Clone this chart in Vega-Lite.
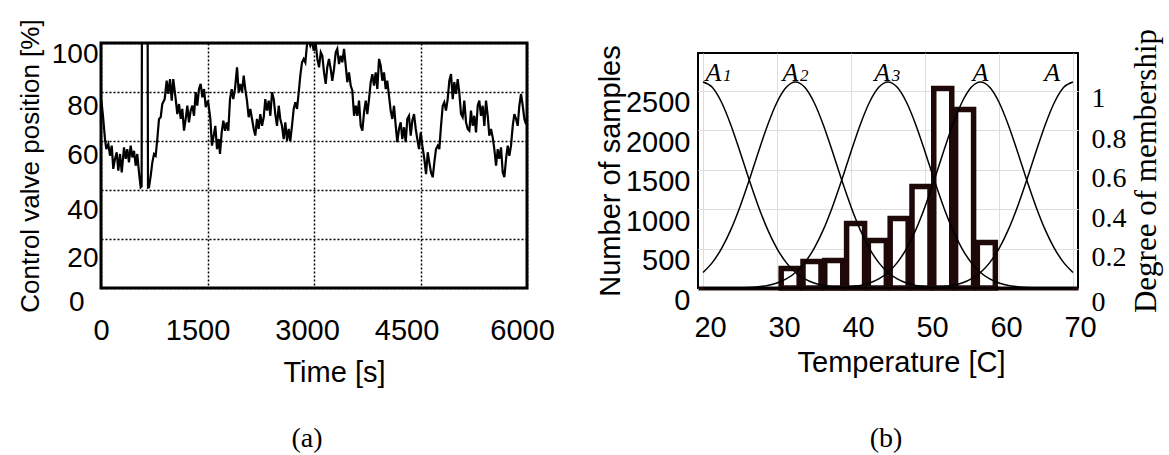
{
"$schema": "https://vega.github.io/schema/vega-lite/v6.json",
"background": "white",
"padding": {"left": 15, "top": 17, "right": 4, "bottom": 4},
"config": {
 "font": "Liberation Sans",
 "axis": {"labelColor": "black", "titleColor": "black", "titleFontWeight": "normal", "domain": false, "ticks": false, "labelOverlap": false, "labelFlush": false, "labelBound": false, "labelFont": "Liberation Sans", "titleFont": "Liberation Sans"},
 "title": {"color": "black", "fontWeight": "normal", "font": "Liberation Serif", "fontSize": 28}
},
"spacing": 171,
"bounds": "flush",
"hconcat": [
 {
  "width": 426, "height": 245,
  "view": {"stroke": "black", "strokeWidth": 3},
  "title": {"text": "(a)", "orient": "bottom", "frame": "group", "offset": 38, "dx": -7},
  "data": {"values": [
{"t":0,"v":77},{"t":10,"v":75.1},{"t":28,"v":70.3},{"t":56,"v":60.8},{"t":75,"v":56.7},{"t":103,"v":58.8},{"t":127,"v":54},{"t":151,"v":58.1},{"t":173,"v":48.6},{"t":197,"v":52.7},{"t":221,"v":55.4},{"t":244,"v":47.9},{"t":268,"v":54.7},{"t":292,"v":47.2},{"t":324,"v":57.4},{"t":348,"v":52.7},{"t":370,"v":56.7},{"t":394,"v":51.3},{"t":418,"v":58.1},{"t":441,"v":53.3},{"t":465,"v":56},{"t":489,"v":49.9},{"t":511,"v":54.7},{"t":535,"v":47.2},{"t":559,"v":41.1},{"t":572,"v":41.5},{"t":578,"v":130},{"t":655,"v":130},{"t":662,"v":41},{"t":676,"v":41.1},{"t":700,"v":45.8},{"t":723,"v":51.3},{"t":747,"v":54.7},{"t":770,"v":54},{"t":793,"v":60.8},{"t":817,"v":69},{"t":841,"v":69.7},{"t":863,"v":75.1},{"t":897,"v":77.1},{"t":925,"v":84.6},{"t":948,"v":79.2},{"t":972,"v":85.3},{"t":996,"v":76.5},{"t":1018,"v":85.3},{"t":1052,"v":77.1},{"t":1075,"v":71},{"t":1099,"v":75.1},{"t":1123,"v":69},{"t":1145,"v":73.1},{"t":1169,"v":64.2},{"t":1193,"v":69},{"t":1216,"v":74.4},{"t":1239,"v":67.6},{"t":1263,"v":72.4},{"t":1286,"v":74.4},{"t":1310,"v":70.3},{"t":1334,"v":79.9},{"t":1356,"v":74.4},{"t":1380,"v":81.2},{"t":1404,"v":83.3},{"t":1427,"v":77.8},{"t":1451,"v":81.2},{"t":1475,"v":73.8},{"t":1507,"v":76.5},{"t":1540,"v":69},{"t":1563,"v":58.1},{"t":1587,"v":62.2},{"t":1610,"v":66.2},{"t":1634,"v":56.7},{"t":1658,"v":60.8},{"t":1676,"v":54.7},{"t":1700,"v":63.5},{"t":1723,"v":68.3},{"t":1747,"v":64.2},{"t":1770,"v":67.6},{"t":1793,"v":64.2},{"t":1817,"v":77.1},{"t":1841,"v":81.2},{"t":1863,"v":77.1},{"t":1887,"v":81.2},{"t":1916,"v":90.1},{"t":1939,"v":79.9},{"t":1962,"v":83.3},{"t":1986,"v":79.9},{"t":2010,"v":86.7},{"t":2032,"v":81.2},{"t":2056,"v":76.5},{"t":2080,"v":69.7},{"t":2103,"v":73.1},{"t":2127,"v":69},{"t":2151,"v":64.9},{"t":2173,"v":62.2},{"t":2197,"v":69},{"t":2221,"v":64.9},{"t":2244,"v":71},{"t":2268,"v":66.2},{"t":2292,"v":69.7},{"t":2314,"v":77.1},{"t":2338,"v":72.4},{"t":2362,"v":76.5},{"t":2385,"v":70.3},{"t":2409,"v":79.9},{"t":2433,"v":77.1},{"t":2455,"v":71},{"t":2479,"v":66.2},{"t":2503,"v":74.4},{"t":2525,"v":69},{"t":2549,"v":66.2},{"t":2573,"v":60.8},{"t":2596,"v":67.6},{"t":2620,"v":60.1},{"t":2644,"v":64.9},{"t":2666,"v":60.1},{"t":2690,"v":66.2},{"t":2714,"v":73.1},{"t":2737,"v":75.8},{"t":2761,"v":73.1},{"t":2785,"v":79.9},{"t":2807,"v":86.7},{"t":2831,"v":92.1},{"t":2855,"v":93.5},{"t":2878,"v":92.1},{"t":2902,"v":99.6},{"t":2926,"v":100.9},{"t":2948,"v":98.9},{"t":2972,"v":100.9},{"t":2996,"v":96.9},{"t":3024,"v":99.6},{"t":3047,"v":93.5},{"t":3071,"v":90.1},{"t":3095,"v":96.2},{"t":3117,"v":94.8},{"t":3141,"v":88},{"t":3165,"v":83.3},{"t":3187,"v":90.1},{"t":3211,"v":93.5},{"t":3235,"v":89.4},{"t":3258,"v":84.6},{"t":3282,"v":89.4},{"t":3306,"v":96.2},{"t":3328,"v":97.6},{"t":3352,"v":91.4},{"t":3376,"v":94.8},{"t":3399,"v":92.1},{"t":3423,"v":97.6},{"t":3447,"v":90.7},{"t":3469,"v":84},{"t":3493,"v":88},{"t":3517,"v":82.6},{"t":3540,"v":80.5},{"t":3564,"v":70.3},{"t":3588,"v":74.4},{"t":3610,"v":70.3},{"t":3634,"v":76.5},{"t":3658,"v":66.2},{"t":3681,"v":64.2},{"t":3705,"v":71.7},{"t":3729,"v":76.5},{"t":3751,"v":71},{"t":3775,"v":77.1},{"t":3799,"v":84},{"t":3822,"v":87.3},{"t":3845,"v":82.6},{"t":3869,"v":88},{"t":3892,"v":81.2},{"t":3916,"v":93.5},{"t":3940,"v":90.7},{"t":3962,"v":84.6},{"t":3986,"v":88},{"t":4010,"v":81.2},{"t":4032,"v":84.6},{"t":4056,"v":78.5},{"t":4080,"v":72.4},{"t":4103,"v":69},{"t":4127,"v":74.4},{"t":4151,"v":66.2},{"t":4173,"v":59.5},{"t":4197,"v":64.9},{"t":4221,"v":67.6},{"t":4244,"v":60.8},{"t":4268,"v":65.6},{"t":4292,"v":59.5},{"t":4314,"v":69},{"t":4338,"v":70.3},{"t":4362,"v":62.2},{"t":4385,"v":68.3},{"t":4409,"v":71},{"t":4433,"v":64.9},{"t":4455,"v":60.8},{"t":4479,"v":56.7},{"t":4503,"v":63.5},{"t":4526,"v":58.1},{"t":4554,"v":52.7},{"t":4578,"v":46.5},{"t":4602,"v":55.4},{"t":4624,"v":51.3},{"t":4648,"v":47.2},{"t":4672,"v":45.2},{"t":4695,"v":51.3},{"t":4718,"v":56.7},{"t":4743,"v":58.1},{"t":4765,"v":56.7},{"t":4789,"v":66.2},{"t":4813,"v":74.4},{"t":4835,"v":75.8},{"t":4859,"v":72.4},{"t":4883,"v":77.1},{"t":4906,"v":84.6},{"t":4930,"v":87.3},{"t":4954,"v":77.1},{"t":4976,"v":84},{"t":5000,"v":79.2},{"t":5024,"v":85.3},{"t":5046,"v":79.9},{"t":5071,"v":71},{"t":5094,"v":69.7},{"t":5117,"v":76.5},{"t":5141,"v":67.6},{"t":5165,"v":64.9},{"t":5188,"v":64.2},{"t":5211,"v":72.4},{"t":5235,"v":66.2},{"t":5258,"v":70.3},{"t":5282,"v":63.5},{"t":5306,"v":74.4},{"t":5328,"v":76.5},{"t":5352,"v":70.3},{"t":5376,"v":74.4},{"t":5399,"v":66.2},{"t":5423,"v":76.5},{"t":5447,"v":70.3},{"t":5469,"v":62.2},{"t":5493,"v":64.9},{"t":5517,"v":61.5},{"t":5540,"v":56.7},{"t":5564,"v":49.9},{"t":5588,"v":56.7},{"t":5610,"v":52.7},{"t":5634,"v":57.4},{"t":5658,"v":47.2},{"t":5681,"v":45.2},{"t":5705,"v":52.7},{"t":5728,"v":58.1},{"t":5751,"v":54},{"t":5775,"v":58.1},{"t":5799,"v":66.2},{"t":5822,"v":71},{"t":5846,"v":69},{"t":5869,"v":66.2},{"t":5892,"v":74.4},{"t":5916,"v":79.2},{"t":5940,"v":74.4},{"t":5963,"v":69},{"t":5986,"v":66.9},{"t":6000,"v":70}
  ]},
  "mark": {"type": "line", "color": "black", "strokeWidth": 2.2, "clip": true},
  "encoding": {
   "x": {"field": "t", "type": "quantitative", "scale": {"domain": [0, 6000], "nice": false},
    "axis": {"values": [0, 1500, 3000, 4500, 6000], "format": "d", "grid": true, "gridColor": "black", "gridDash": [2, 2], "gridWidth": 1.5,
     "labelFontSize": 29, "labelPadding": 28,
     "labelOffset": {"condition": [{"test": "datum.value === 1500", "value": -10}, {"test": "datum.value === 3000", "value": -7}, {"test": "datum.value === 4500", "value": -14}, {"test": "datum.value === 6000", "value": -5}], "value": 0},
     "title": "Time [s]", "titleFontSize": 29, "titlePadding": 13, "titleX": 233}},
   "y": {"field": "v", "type": "quantitative", "scale": {"domain": [0, 100], "nice": false},
    "axis": {"values": [0, 20, 40, 60, 80, 100], "format": "d", "grid": true, "gridColor": "black", "gridDash": [2, 2], "gridWidth": 1.5,
     "labelFontSize": 28,
     "labelPadding": {"condition": {"test": "datum.value === 0", "value": 17}, "value": 3},
     "labelOffset": {"condition": [{"test": "datum.value === 100", "value": 11}, {"test": "datum.value === 40", "value": 20}, {"test": "datum.value === 20", "value": 19}], "value": 14},
     "title": "Control valve position [%]", "titleFontSize": 26, "titlePadding": 8}}
  }
 },
 {
  "spacing": 0,
  "bounds": "flush",
  "vconcat": [
   {"width": 380, "height": 10, "view": {"stroke": null}, "data": {"values": [{}]}, "mark": {"type": "text"}, "encoding": {"text": {"value": ""}}},
   {
    "width": 380, "height": 235,
    "view": {"stroke": "black", "strokeWidth": 2},
    "title": {"text": "(b)", "orient": "bottom", "frame": "group", "offset": 48, "dx": -2},
    "encoding": {
     "x": {"field": "t", "type": "quantitative", "scale": {"domain": [20, 70], "nice": false},
      "axis": {"values": [20, 30, 40, 50, 60, 70], "domain": true, "domainColor": "#1e0808", "domainWidth": 4,
       "labelFontSize": 29, "labelPadding": 25, "labelOffset": 7,
       "title": "Temperature [C]", "titleFontSize": 29, "titlePadding": 6, "titleX": 203}}
    },
    "layer": [
     {
      "data": {"values": [
       {"t": 31.78, "n": 247}, {"t": 34.73, "n": 336}, {"t": 37.67, "n": 349}, {"t": 40.62, "n": 818}, {"t": 43.56, "n": 603},
       {"t": 46.51, "n": 882}, {"t": 49.46, "n": 1288}, {"t": 52.40, "n": 2532}, {"t": 55.35, "n": 2265}, {"t": 58.29, "n": 577}
      ]},
      "mark": {"type": "bar", "width": 18, "fill": "white", "stroke": "#1e0808", "strokeWidth": 5.5},
      "encoding": {
       "y": {"field": "n", "type": "quantitative", "scale": {"domain": [0, 2982], "nice": false},
        "axis": {"orient": "left", "values": [0, 500, 1000, 1500, 2000, 2500], "format": "d", "labelFontSize": 29, "labelPadding": 8, "labelOffset": 12,
         "title": "Number of samples", "titleFontSize": 29, "titlePadding": 0}}
      }
     },
     {
      "encoding": {
       "y": {"field": "m", "type": "quantitative", "scale": {"domain": [0, 1.1929], "nice": false},
        "axis": {"orient": "right", "values": [0, 0.2, 0.4, 0.6, 0.8, 1], "format": ".1~f", "labelFont": "Liberation Serif", "labelFontSize": 28, "labelPadding": 13,
         "labelOffset": {"condition": [{"test": "datum.value === 1", "value": 7}, {"test": "datum.value === 0", "value": 14}], "value": 9},
         "title": "Degree of membership", "titleFont": "Liberation Serif", "titleFontSize": 31, "titleAngle": -90, "titleBaseline": "top", "titlePadding": 5}}
      },
      "layer": [
       {
        "data": {"values": [
{"c":"A1","t":20,"m":1.046},{"c":"A1","t":21.25,"m":1.019},{"c":"A1","t":22.5,"m":0.943},{"c":"A1","t":23.75,"m":0.829},{"c":"A1","t":25,"m":0.692},{"c":"A1","t":26.25,"m":0.548},{"c":"A1","t":27.5,"m":0.413},{"c":"A1","t":28.75,"m":0.295},{"c":"A1","t":30,"m":0.2},{"c":"A1","t":31.25,"m":0.129},{"c":"A1","t":32.5,"m":0.079},{"c":"A1","t":33.75,"m":0.046},{"c":"A1","t":35,"m":0.025},{"c":"A1","t":36.25,"m":0.013},{"c":"A1","t":37.5,"m":0.007},{"c":"A1","t":38.75,"m":0.003},{"c":"A1","t":40,"m":0.001},{"c":"A1","t":70,"m":0},
{"c":"A2","t":20,"m":0.079},{"c":"A2","t":21.25,"m":0.129},{"c":"A2","t":22.5,"m":0.2},{"c":"A2","t":23.75,"m":0.295},{"c":"A2","t":25,"m":0.413},{"c":"A2","t":26.25,"m":0.548},{"c":"A2","t":27.5,"m":0.692},{"c":"A2","t":28.75,"m":0.829},{"c":"A2","t":30,"m":0.943},{"c":"A2","t":31.25,"m":1.019},{"c":"A2","t":32.5,"m":1.046},{"c":"A2","t":33.75,"m":1.019},{"c":"A2","t":35,"m":0.943},{"c":"A2","t":36.25,"m":0.829},{"c":"A2","t":37.5,"m":0.692},{"c":"A2","t":38.75,"m":0.548},{"c":"A2","t":40,"m":0.413},{"c":"A2","t":41.25,"m":0.295},{"c":"A2","t":42.5,"m":0.2},{"c":"A2","t":43.75,"m":0.129},{"c":"A2","t":45,"m":0.079},{"c":"A2","t":46.25,"m":0.046},{"c":"A2","t":47.5,"m":0.025},{"c":"A2","t":48.75,"m":0.013},{"c":"A2","t":50,"m":0.007},{"c":"A2","t":51.25,"m":0.003},{"c":"A2","t":52.5,"m":0.001},{"c":"A2","t":70,"m":0},
{"c":"A3","t":20,"m":0},{"c":"A3","t":25,"m":0.001},{"c":"A3","t":26.25,"m":0.003},{"c":"A3","t":27.5,"m":0.007},{"c":"A3","t":28.75,"m":0.013},{"c":"A3","t":30,"m":0.025},{"c":"A3","t":31.25,"m":0.046},{"c":"A3","t":32.5,"m":0.079},{"c":"A3","t":33.75,"m":0.129},{"c":"A3","t":35,"m":0.2},{"c":"A3","t":36.25,"m":0.295},{"c":"A3","t":37.5,"m":0.413},{"c":"A3","t":38.75,"m":0.548},{"c":"A3","t":40,"m":0.692},{"c":"A3","t":41.25,"m":0.829},{"c":"A3","t":42.5,"m":0.943},{"c":"A3","t":43.75,"m":1.019},{"c":"A3","t":45,"m":1.046},{"c":"A3","t":46.25,"m":1.019},{"c":"A3","t":47.5,"m":0.943},{"c":"A3","t":48.75,"m":0.829},{"c":"A3","t":50,"m":0.692},{"c":"A3","t":51.25,"m":0.548},{"c":"A3","t":52.5,"m":0.413},{"c":"A3","t":53.75,"m":0.295},{"c":"A3","t":55,"m":0.2},{"c":"A3","t":56.25,"m":0.129},{"c":"A3","t":57.5,"m":0.079},{"c":"A3","t":58.75,"m":0.046},{"c":"A3","t":60,"m":0.025},{"c":"A3","t":61.25,"m":0.013},{"c":"A3","t":62.5,"m":0.007},{"c":"A3","t":63.75,"m":0.003},{"c":"A3","t":65,"m":0.001},{"c":"A3","t":70,"m":0},
{"c":"A4","t":20,"m":0},{"c":"A4","t":37.5,"m":0.001},{"c":"A4","t":38.75,"m":0.003},{"c":"A4","t":40,"m":0.007},{"c":"A4","t":41.25,"m":0.013},{"c":"A4","t":42.5,"m":0.025},{"c":"A4","t":43.75,"m":0.046},{"c":"A4","t":45,"m":0.079},{"c":"A4","t":46.25,"m":0.129},{"c":"A4","t":47.5,"m":0.2},{"c":"A4","t":48.75,"m":0.295},{"c":"A4","t":50,"m":0.413},{"c":"A4","t":51.25,"m":0.548},{"c":"A4","t":52.5,"m":0.692},{"c":"A4","t":53.75,"m":0.829},{"c":"A4","t":55,"m":0.943},{"c":"A4","t":56.25,"m":1.019},{"c":"A4","t":57.5,"m":1.046},{"c":"A4","t":58.75,"m":1.019},{"c":"A4","t":60,"m":0.943},{"c":"A4","t":61.25,"m":0.829},{"c":"A4","t":62.5,"m":0.692},{"c":"A4","t":63.75,"m":0.548},{"c":"A4","t":65,"m":0.413},{"c":"A4","t":66.25,"m":0.295},{"c":"A4","t":67.5,"m":0.2},{"c":"A4","t":68.75,"m":0.129},{"c":"A4","t":70,"m":0.079},
{"c":"A5","t":20,"m":0},{"c":"A5","t":50,"m":0.001},{"c":"A5","t":51.25,"m":0.003},{"c":"A5","t":52.5,"m":0.007},{"c":"A5","t":53.75,"m":0.013},{"c":"A5","t":55,"m":0.025},{"c":"A5","t":56.25,"m":0.046},{"c":"A5","t":57.5,"m":0.079},{"c":"A5","t":58.75,"m":0.129},{"c":"A5","t":60,"m":0.2},{"c":"A5","t":61.25,"m":0.295},{"c":"A5","t":62.5,"m":0.413},{"c":"A5","t":63.75,"m":0.548},{"c":"A5","t":65,"m":0.692},{"c":"A5","t":66.25,"m":0.829},{"c":"A5","t":67.5,"m":0.943},{"c":"A5","t":68.75,"m":1.019},{"c":"A5","t":70,"m":1.046}
        ]},
        "mark": {"type": "line", "interpolate": "monotone", "color": "black", "strokeWidth": 1.5},
        "encoding": {"detail": {"field": "c"}}
       },
       {
        "data": {"values": [
         {"t": 21.4, "m": 1.05, "s": "A"}, {"t": 31.8, "m": 1.05, "s": "A"}, {"t": 44.2, "m": 1.05, "s": "A"}, {"t": 57.5, "m": 1.05, "s": "A"}, {"t": 67.2, "m": 1.05, "s": "A"}
        ]},
        "mark": {"type": "text", "font": "Liberation Serif", "fontStyle": "italic", "fontSize": 26, "baseline": "alphabetic", "align": "center", "color": "black"},
        "encoding": {"text": {"field": "s"}}
       },
       {
        "data": {"values": [
         {"t": 21.4, "m": 1.05, "s": "1"}, {"t": 31.8, "m": 1.05, "s": "2"}, {"t": 44.2, "m": 1.05, "s": "3"}
        ]},
        "mark": {"type": "text", "font": "Liberation Serif", "fontStyle": "italic", "fontSize": 17, "baseline": "alphabetic", "align": "center", "dx": 14, "color": "black"},
        "encoding": {"text": {"field": "s"}}
       }
      ]
     }
    ],
    "resolve": {"scale": {"y": "independent"}}
   }
  ]
 }
]
}
